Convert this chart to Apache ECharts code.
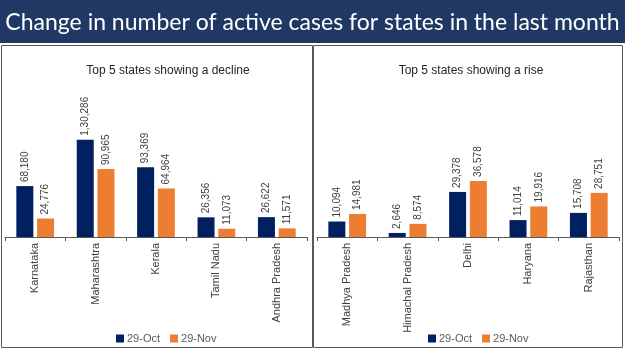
<!DOCTYPE html>
<html>
<head>
<meta charset="utf-8">
<script src="https://cdn.jsdelivr.net/npm/echarts@6/dist/echarts.min.js"></script>
<style>
  html, body { margin: 0; padding: 0; background: #fff; }
  #chart { width: 625px; height: 351px; }
</style>
</head>
<body>
<div id="chart"></div>
<script>
// data
var seriesNames = ['29-Oct', '29-Nov'];

var declineStates = ['Karnataka', 'Maharashtra', 'Kerala', 'Tamil Nadu', 'Andhra Pradesh'];
var declineOct = [68180, 130286, 93369, 26356, 26622];
var declineNov = [24776, 90965, 64964, 11073, 11571];

var riseStates = ['Madhya Pradesh', 'Himachal Pradesh', 'Delhi', 'Haryana', 'Rajasthan'];
var riseOct = [10094, 2646, 29378, 11014, 15708];
var riseNov = [14981, 8574, 36578, 19916, 28751];

var navy = '#002060';
var orange = '#ED7D31';
var labelFont = 'Liberation Sans';

// indian style grouping: 1,30,286
function indianFormat(n) {
  var s = String(n);
  if (s.length <= 3) return s;
  var last3 = s.slice(-3);
  var rest = s.slice(0, -3);
  rest = rest.replace(/\B(?=(\d{2})+(?!\d))/g, ',');
  return rest + ',' + last3;
}

function barSeries(name, data, color, idx) {
  return {
    name: name,
    type: 'bar',
    xAxisIndex: idx,
    yAxisIndex: idx,
    data: data,
    barWidth: 17,
    barGap: '22%',
    itemStyle: { color: color },
    label: {
      show: true,
      position: 'top',
      rotate: 90,
      align: 'left',
      verticalAlign: 'middle',
      distance: 4,
      fontFamily: labelFont,
      fontSize: 10,
      color: '#404040',
      formatter: function (p) { return indianFormat(p.value); }
    }
  };
}

function catAxis(states, idx) {
  return {
    type: 'category',
    gridIndex: idx,
    data: states,
    axisLine: { lineStyle: { color: '#595959', width: 1 } },
    axisTick: { show: true, length: 4, lineStyle: { color: '#595959' } },
    axisLabel: {
      rotate: 90,
      margin: 6,
      fontFamily: labelFont,
      fontSize: 11,
      color: '#404040'
    }
  };
}

function valAxis(max, idx) {
  return {
    type: 'value',
    gridIndex: idx,
    min: 0,
    max: max,
    show: false,
    splitLine: { show: false }
  };
}

var chart = echarts.init(document.getElementById('chart'));
chart.setOption({
  animation: false,
  backgroundColor: '#fff',
  graphic: [
    { type: 'rect', shape: { x: 0, y: 0, width: 625, height: 43 }, style: { fill: '#1F3864' }, z: -1 },
    { type: 'rect', shape: { x: 1.5, y: 45.5, width: 311, height: 302 }, style: { fill: 'none', stroke: '#595959', lineWidth: 1 } },
    { type: 'rect', shape: { x: 313.5, y: 45.5, width: 309, height: 302 }, style: { fill: 'none', stroke: '#595959', lineWidth: 1 } }
  ],
  title: [
    {
      text: 'Change in number of active cases for states in the last month',
      left: 'center', top: 6,
      textStyle: { color: '#fff', fontFamily: 'Lato', fontWeight: 'normal', fontSize: 23 }
    },
    {
      text: 'Top 5 states showing a decline',
      left: 163, top: 60, textAlign: 'center',
      textStyle: { color: '#262626', fontFamily: labelFont, fontWeight: 'normal', fontSize: 12 }
    },
    {
      text: 'Top 5 states showing a rise',
      left: 466, top: 60, textAlign: 'center',
      textStyle: { color: '#262626', fontFamily: labelFont, fontWeight: 'normal', fontSize: 12 }
    }
  ],
  legend: [
    {
      data: seriesNames, left: 111, top: 328,
      itemWidth: 8, itemHeight: 8, itemGap: 10, icon: 'rect',
      textStyle: { fontFamily: labelFont, fontSize: 11, color: '#595959', padding: [0, 0, 0, -2] }
    },
    {
      data: seriesNames, left: 423, top: 328,
      itemWidth: 8, itemHeight: 8, itemGap: 10, icon: 'rect',
      textStyle: { fontFamily: labelFont, fontSize: 11, color: '#595959', padding: [0, 0, 0, -2] }
    }
  ],
  grid: [
    { left: 5, right: 318, top: 125, bottom: 114 },
    { left: 317, right: 6, top: 125, bottom: 114 }
  ],
  xAxis: [catAxis(declineStates, 0), catAxis(riseStates, 1)],
  yAxis: [valAxis(150000, 0), valAxis(73000, 1)],
  series: [
    barSeries(seriesNames[0], declineOct, navy, 0),
    barSeries(seriesNames[1], declineNov, orange, 0),
    barSeries(seriesNames[0], riseOct, navy, 1),
    barSeries(seriesNames[1], riseNov, orange, 1)
  ]
});
</script>
</body>
</html>
